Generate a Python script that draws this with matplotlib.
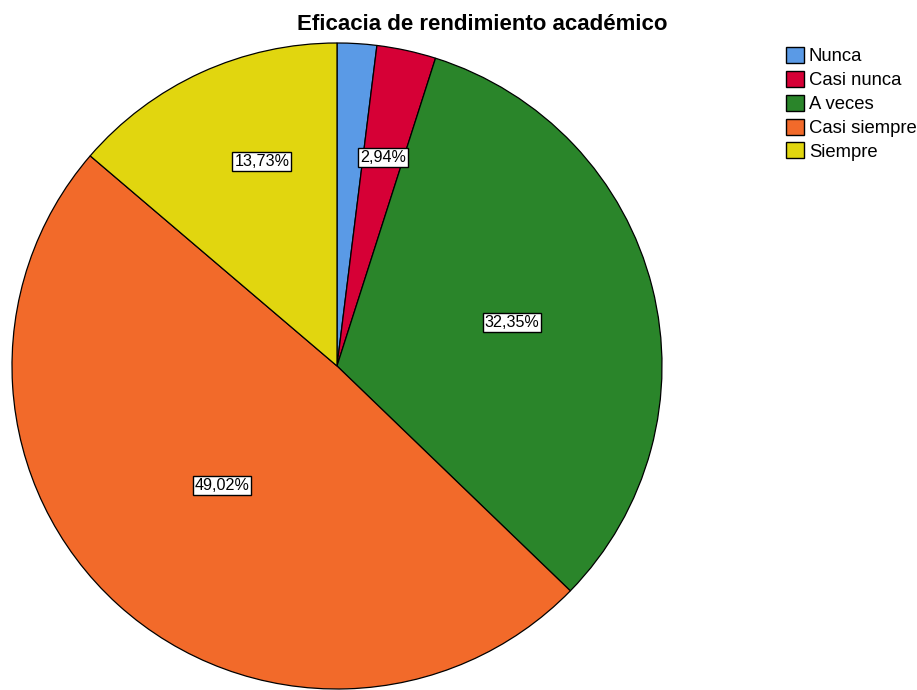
import matplotlib
matplotlib.use("Agg")
import matplotlib.pyplot as plt
from matplotlib.patches import Patch
import numpy as np

plt.rcParams['font.family'] = ['Liberation Sans', 'DejaVu Sans']

title = "Eficacia de rendimiento académico"
categories = ["Nunca", "Casi nunca", "A veces", "Casi siempre", "Siempre"]
counts = [2, 3, 33, 50, 14]
label_texts = ["", "2,94%", "32,35%", "49,02%", "13,73%"]
colors = ["#5A9AE6", "#D60036", "#2A852A", "#F26A2A", "#E1D60F"]
label_radius = [0.6, 0.662, 0.555, 0.513, 0.673]
label_angle_shift = [0.0, 0.0, 0.0, -1.3, -4.6]

W, H = 917, 690
fig = plt.figure(figsize=(W / 100, H / 100), dpi=100)
ax = fig.add_axes([12 / W, 1 / H, 650 / W, 646 / H])
wedges, _ = ax.pie(counts, colors=colors, startangle=90, counterclock=False,
                   radius=1.0, center=(0, 0),
                   wedgeprops=dict(edgecolor="black", linewidth=0.9))
ax.set_xlim(-1.0, 1.0)
ax.set_ylim(-1.0, 1.0)
ax.set_aspect('auto')
ax.axis('off')

for w, txt, r, sh in zip(wedges, label_texts, label_radius, label_angle_shift):
    if not txt:
        continue
    ang = np.deg2rad((w.theta1 + w.theta2) / 2 + sh)
    ax.text(r * np.cos(ang), r * np.sin(ang), txt, ha='center', va='center',
            fontsize=11.6,
            bbox=dict(boxstyle='square,pad=0.12', facecolor='white',
                      edgecolor='black', linewidth=1.0))

fig.text(482 / W, 1 - 25 / H, title, ha='center', va='center',
         fontsize=16, fontweight='bold')

handles = [Patch(facecolor=c, edgecolor='black', linewidth=1.0) for c in colors]
fig.legend(handles, categories, loc='upper left',
           bbox_to_anchor=(786 / W, 1 - 47 / H), frameon=False,
           fontsize=13.3, handlelength=0.95, handleheight=0.95,
           handletextpad=0.28, labelspacing=0.3, borderpad=0, borderaxespad=0)

fig.savefig("out.png", dpi=100, facecolor='white')
